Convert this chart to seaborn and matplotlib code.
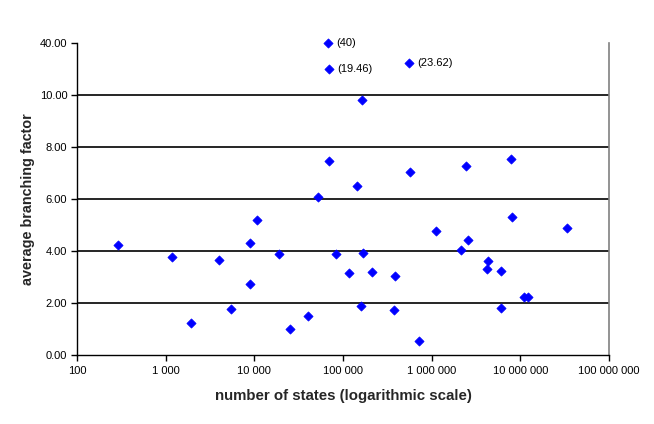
import matplotlib
matplotlib.use("Agg")
import matplotlib.pyplot as plt
import seaborn as sns
import pandas as pd

# number of states and average branching factor (regular points)
states = [290, 1180, 1940, 4000, 5470, 8970, 8970, 10760, 19050, 25350, 40500,
          52500, 69900, 83800, 117500, 144600, 160400, 163400, 169000, 213700,
          378000, 388000, 573000, 724000, 1127000, 2160000, 2460000, 2590000,
          4240000, 4350000, 6100000, 6100000, 7910000, 8130000, 11100000,
          12300000, 33700000]
branching = [4.22, 3.76, 1.22, 3.64, 1.76, 4.30, 2.72, 5.18, 3.88, 0.99, 1.49,
             6.07, 7.45, 3.88, 3.14, 6.49, 1.87, 9.80, 3.92, 3.18,
             1.72, 3.03, 7.03, 0.53, 4.76, 4.03, 7.26, 4.41,
             3.30, 3.60, 3.22, 1.80, 7.53, 5.30, 2.22,
             2.22, 4.87]

# outliers drawn above the axis break (true value shown as label)
out_states = [67000, 68800, 558000]
out_values = [40, 19.46, 23.62]
out_positions = [12.0, 11.0, 11.23]
out_labels = ["(40)", "(19.46)", "(23.62)"]

y_ticks = [0, 2, 4, 6, 8, 10, 12]
y_ticklabels = ["0.00", "2.00", "4.00", "6.00", "8.00", "10.00", "40.00"]
x_ticks = [100, 1000, 10000, 100000, 1000000, 10000000, 100000000]
x_ticklabels = ["100", "1 000", "10 000", "100 000", "1 000 000", "10 000 000", "100 000 000"]

sns.set_style("white")
plt.rcParams['font.family'] = ['Liberation Sans', 'DejaVu Sans']

fig = plt.figure(figsize=(6.54, 4.24), dpi=100)
ax = fig.add_axes([77/654, 1-355/424, (609-77)/654, (355-43)/424])

df = pd.DataFrame({"states": states, "branching": branching})
df_out = pd.DataFrame({"states": out_states, "pos": out_positions})

blue = "#0000FF"
sns.scatterplot(data=df, x="states", y="branching", ax=ax, marker="D",
                color=blue, s=22, edgecolor=blue, linewidth=0.5, clip_on=False, zorder=3)
sns.scatterplot(data=df_out, x="states", y="pos", ax=ax, marker="D",
                color=blue, s=22, edgecolor=blue, linewidth=0.5, clip_on=False, zorder=3)
for xs, ys, lab in zip(out_states, out_positions, out_labels):
    ax.annotate(lab, (xs, ys), xytext=(6, 0), textcoords="offset points",
                va="center", ha="left", fontsize=8, color="black")

ax.set_xscale("log")
ax.set_xlim(100, 100000000)
ax.set_ylim(0, 12)
ax.set_xticks(x_ticks)
ax.set_xticklabels(x_ticklabels)
ax.minorticks_off()
ax.set_yticks(y_ticks)
ax.set_yticklabels(y_ticklabels)

for yv in [2, 4, 6, 8, 10]:
    ax.axhline(yv, color="black", linewidth=1.2, zorder=1)

ax.spines["top"].set_visible(False)
ax.spines["right"].set_color("#808080")
ax.spines["right"].set_linewidth(1.2)
ax.spines["left"].set_color("black")
ax.spines["bottom"].set_color("black")
ax.spines["left"].set_linewidth(1.0)
ax.spines["bottom"].set_linewidth(1.0)

ax.tick_params(axis="both", which="major", direction="out", length=4, width=1,
               color="black", labelsize=8, labelcolor="black", left=True, bottom=True)
ax.tick_params(axis="x", pad=4)
ax.tick_params(axis="y", pad=3)

ax.set_xlabel("number of states (logarithmic scale)", fontsize=10.8, fontweight="bold", labelpad=9)
ax.set_ylabel("average branching factor", fontsize=10.4, fontweight="bold", labelpad=3.5)

fig.savefig("out.png", dpi=100)
